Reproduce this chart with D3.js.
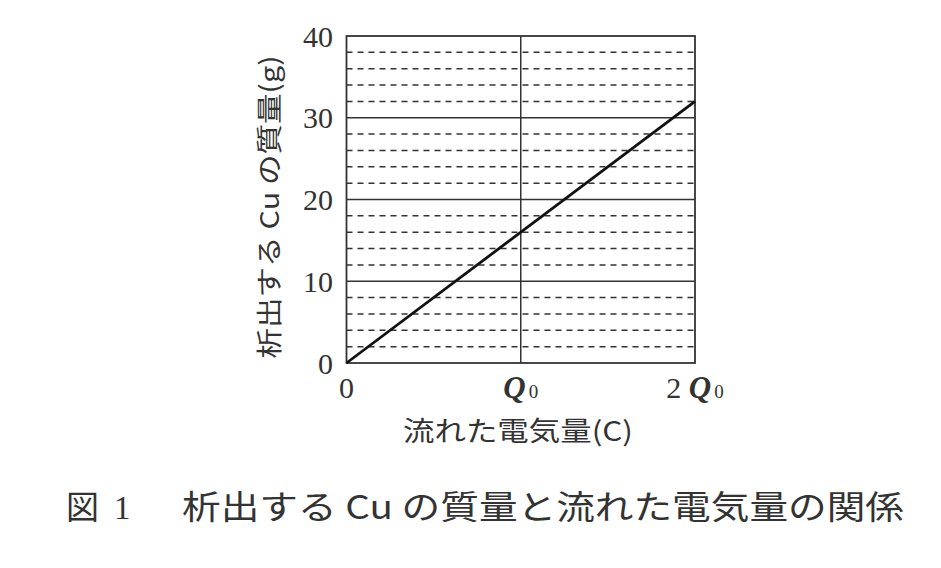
<!DOCTYPE html>
<html>
<head>
<meta charset="utf-8">
<script src="https://cdn.jsdelivr.net/npm/d3@7"></script>
<style>
  html, body { margin: 0; padding: 0; background: #fff; }
  svg { display: block; }
</style>
</head>
<body>
<svg id="chart" width="941" height="568"></svg>
<script>
// ---- data ----
const chargeQ0 = [0, 2];            // flowed charge, in units of Q0
const massCu = [0, 32];             // deposited Cu mass (g)
const yTicks = [0, 10, 20, 30, 40];
const yMinorTicks = [2, 4, 6, 8, 12, 14, 16, 18, 22, 24, 26, 28, 32, 34, 36, 38];
const xTicks = [0, 1, 2];
const xTickLabels = [{pre: "0", q: false}, {pre: "", q: true}, {pre: "2 ", q: true}];
const xVerticalGrid = [1];
const yAxisTitle = "析出する Cu の質量(g)";
const xAxisTitle = "流れた電気量(C)";
const figNo = "図";
const figNum = "1";
const figTitle = "析出する Cu の質量と流れた電気量の関係";

// ---- layout ----
const svg = d3.select("#chart");
const x = d3.scaleLinear().domain([0, 2]).range([346.5, 695]);
const y = d3.scaleLinear().domain([0, 40]).range([363, 36]);
const ink = "#333";
const serif = "'Liberation Serif', 'DejaVu Serif', serif";
const cjk = "'Noto Sans CJK JP', sans-serif";

const g = svg.append("g");

// minor dashed gridlines
g.selectAll("line.minor").data(yMinorTicks).join("line")
  .attr("x1", x(0)).attr("x2", x(2))
  .attr("y1", d => y(d)).attr("y2", d => y(d))
  .attr("stroke", ink).attr("stroke-width", 1.5)
  .attr("stroke-dasharray", "6,5");

// major solid gridlines
g.selectAll("line.major").data(yTicks.filter(d => d > 0 && d < 40)).join("line")
  .attr("x1", x(0)).attr("x2", x(2))
  .attr("y1", d => y(d)).attr("y2", d => y(d))
  .attr("stroke", ink).attr("stroke-width", 1.5);

// vertical gridline at Q0
g.selectAll("line.vg").data(xVerticalGrid).join("line")
  .attr("x1", d => x(d)).attr("x2", d => x(d))
  .attr("y1", y(0)).attr("y2", y(40))
  .attr("stroke", ink).attr("stroke-width", 1.5);

// frame
g.append("rect")
  .attr("x", x(0)).attr("y", y(40))
  .attr("width", x(2) - x(0)).attr("height", y(0) - y(40))
  .attr("fill", "none").attr("stroke", ink).attr("stroke-width", 1.8);

// data line
const pts = chargeQ0.map((c, i) => [c, massCu[i]]);
g.append("path")
  .attr("d", d3.line().x(d => x(d[0])).y(d => y(d[1]))(pts))
  .attr("fill", "none").attr("stroke", "#111").attr("stroke-width", 2.8);

// y tick labels
g.selectAll("text.yt").data(yTicks).join("text")
  .attr("x", 333).attr("y", d => y(d))
  .attr("dy", "0.35em")
  .attr("text-anchor", "end")
  .attr("font-family", serif).attr("font-size", 30)
  .attr("fill", ink)
  .text(d => d);

// x tick labels
const xt = g.selectAll("text.xt").data(xTicks).join("text")
  .attr("x", d => x(d)).attr("y", 398)
  .attr("text-anchor", "middle")
  .attr("font-family", serif).attr("font-size", 30)
  .attr("fill", ink);
xt.each(function(d, i) {
  const t = d3.select(this);
  const lab = xTickLabels[i];
  if (lab.pre) t.append("tspan").text(lab.pre);
  if (lab.q) {
    t.append("tspan").attr("font-style", "italic").attr("font-weight", "bold").attr("font-size", 31).text("Q");
    t.append("tspan").attr("font-size", 19).attr("dx", 3).text("0");
  }
});

// axis titles
g.append("text")
  .attr("transform", "translate(279,207) rotate(-90)")
  .attr("text-anchor", "middle")
  .attr("font-family", cjk).attr("font-size", 26)
  .attr("fill", ink)
  .attr("textLength", 303).attr("lengthAdjust", "spacingAndGlyphs")
  .text(yAxisTitle);

g.append("text")
  .attr("x", 518).attr("y", 441)
  .attr("text-anchor", "middle")
  .attr("font-family", cjk).attr("font-size", 27)
  .attr("fill", ink)
  .attr("textLength", 230).attr("lengthAdjust", "spacingAndGlyphs")
  .text(xAxisTitle);

// figure caption
g.append("text")
  .attr("x", 66).attr("y", 519)
  .attr("font-family", cjk).attr("font-size", 33)
  .attr("fill", ink)
  .text(figNo);
g.append("text")
  .attr("x", 114).attr("y", 519)
  .attr("font-family", serif).attr("font-size", 33)
  .attr("fill", ink)
  .text(figNum);
g.append("text")
  .attr("x", 182).attr("y", 519)
  .attr("font-family", cjk).attr("font-size", 33)
  .attr("fill", ink)
  .attr("textLength", 722).attr("lengthAdjust", "spacingAndGlyphs")
  .text(figTitle);
</script>
</body>
</html>
